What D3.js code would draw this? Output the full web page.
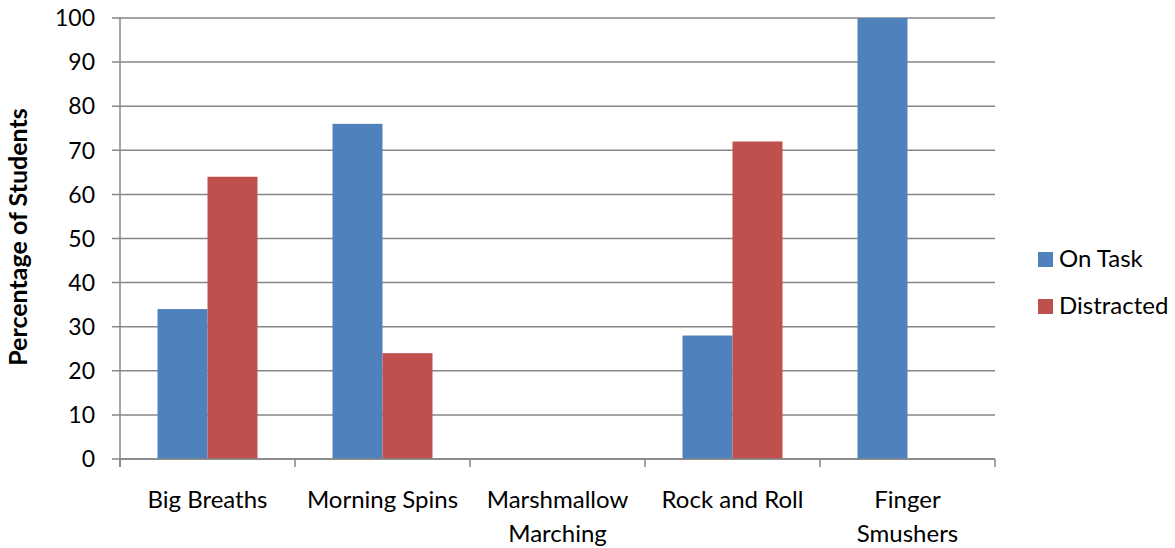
<!DOCTYPE html>
<html>
<head>
<meta charset="utf-8">
<script src="https://cdn.jsdelivr.net/npm/d3@7"></script>
<style>
  html, body { margin: 0; padding: 0; background: #fff; }
  svg { display: block; }
  text { font-family: Lato, "Open Sans", sans-serif; fill: #000; }
</style>
</head>
<body>
<svg id="chart" width="1175" height="548"></svg>
<script>
// Activity categories (label lines for wrapped names)
const categories = ["Big Breaths", "Morning Spins", "Marshmallow Marching", "Rock and Roll", "Finger Smushers"];
const categoryLines = [["Big Breaths"], ["Morning Spins"], ["Marshmallow", "Marching"], ["Rock and Roll"], ["Finger", "Smushers"]];
const seriesNames = ["On Task", "Distracted"];
const onTask = [34, 76, 0, 28, 100];
const distracted = [64, 24, 0, 72, 0];
const yTicks = [0, 10, 20, 30, 40, 50, 60, 70, 80, 90, 100];
const colors = ["#4F81BD", "#C0504D"];

(function draw() {
  const svg = d3.select("#chart");
  const mLeft = 120, mRight = 995, mTop = 18, mBottom = 459;

  const x = d3.scaleBand().domain(categories).range([mLeft, mRight]);
  // two bars fill the middle 100px of each 175px band
  const gap = x.bandwidth() * 0.2142857;
  const inner = d3.scaleBand().domain(seriesNames).range([gap, x.bandwidth() - gap]);
  const y = d3.scaleLinear().domain([0, 100]).range([mBottom, mTop]);

  const gridColor = "#868686";

  // horizontal gridlines with left tick marks
  svg.append("g").selectAll("line").data(yTicks).join("line")
    .attr("x1", mLeft - 8).attr("x2", mRight)
    .attr("y1", d => y(d)).attr("y2", d => y(d))
    .attr("stroke", gridColor).attr("stroke-width", 1.5);

  // bars
  const series = [onTask, distracted];
  const groups = svg.append("g");
  categories.forEach((c, i) => {
    seriesNames.forEach((s, j) => {
      const v = series[j][i];
      if (v > 0) {
        groups.append("rect")
          .attr("x", x(c) + inner(s))
          .attr("width", inner.bandwidth())
          .attr("y", y(v))
          .attr("height", y(0) - y(v))
          .attr("fill", colors[j]);
      }
    });
  });

  // y axis line
  svg.append("line").attr("x1", mLeft).attr("x2", mLeft).attr("y1", mTop).attr("y2", mBottom + 8)
    .attr("stroke", gridColor).attr("stroke-width", 1.5);

  // category boundary ticks on the x axis
  const bounds = categories.map(c => x(c)).concat([mRight]);
  svg.append("g").selectAll("line").data(bounds).join("line")
    .attr("x1", d => d).attr("x2", d => d)
    .attr("y1", mBottom).attr("y2", mBottom + 8)
    .attr("stroke", gridColor).attr("stroke-width", 1.5);
  svg.append("line").attr("x1", mLeft).attr("x2", mRight).attr("y1", mBottom).attr("y2", mBottom)
    .attr("stroke", gridColor).attr("stroke-width", 1.5);

  // y tick labels
  svg.append("g").selectAll("text").data(yTicks).join("text")
    .attr("x", 95).attr("y", d => y(d))
    .attr("dy", "0.36em")
    .attr("text-anchor", "end")
    .style("font-size", "23px")
    .text(d => d);

  // category labels
  categories.forEach((c, i) => {
    const t = svg.append("text")
      .attr("text-anchor", "middle")
      .style("font-size", "24px");
    categoryLines[i].forEach((line, k) => {
      t.append("tspan")
        .attr("x", x(c) + x.bandwidth() / 2)
        .attr("y", 508 + k * 34)
        .text(line);
    });
  });

  // y axis title
  svg.append("text")
    .attr("transform", "translate(27, 237) rotate(-90)")
    .attr("text-anchor", "middle")
    .style("font-size", "25px")
    .style("font-weight", "bold")
    .text("Percentage of Students");

  // legend
  const legend = svg.append("g");
  seriesNames.forEach((s, j) => {
    const ly = 252 + j * 47;
    legend.append("rect").attr("x", 1038).attr("y", ly).attr("width", 15).attr("height", 15).attr("fill", colors[j]);
    legend.append("text").attr("x", 1059).attr("y", ly + 15).style("font-size", "24px").text(s);
  });
})();
</script>
</body>
</html>
